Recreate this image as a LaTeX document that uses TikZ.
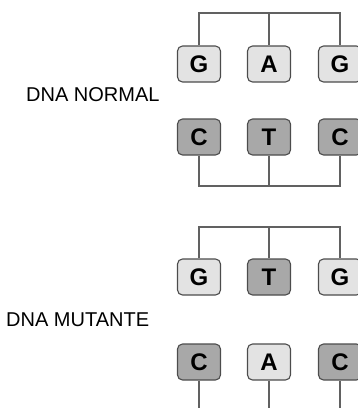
\documentclass[tikz,border=0pt]{standalone}
\usepackage{fontspec}
\setmainfont{Liberation Sans}
\begin{document}
\begin{tikzpicture}[x=1pt,y=-1pt,
  base/.style={draw=black!70, line width=1.1pt, rounded corners=5pt, minimum width=43pt, minimum height=36pt, inner sep=0pt, font=\fontsize{24}{24}\selectfont\bfseries},
  light/.style={base, fill=black!11},
  dark/.style={base, fill=black!34},
  link/.style={draw=black!62, line width=1.4pt},
  lbl/.style={font=\fontsize{20}{20}\selectfont, text=black, anchor=west, inner sep=0pt}]
\useasboundingbox (0,0) rectangle (357,408);
% group 1
\node[light] (g1a) at (199,64) {G};
\node[light] (g1b) at (269,64) {A};
\node[light] (g1c) at (340,64) {G};
\node[dark] (g1d) at (199,137) {C};
\node[dark] (g1e) at (269,137) {T};
\node[dark] (g1f) at (340,137) {C};
\coordinate (t1) at (269,13);
\coordinate (b1) at (269,186);
\draw[link] (g1a.north) |- (t1) -| (g1c.north);
\draw[link] (t1) -- (g1b.north);
\draw[link] (g1d.south) |- (b1) -| (g1f.south);
\draw[link] (b1) -- (g1e.south);
\node[lbl] (n1) at (26,95) {DNA NORMAL};
% group 2
\node[light] (g2a) at (199,277) {G};
\node[dark] (g2b) at (269,277) {T};
\node[light] (g2c) at (340,277) {G};
\node[dark] (g2d) at (199,362) {C};
\node[light] (g2e) at (269,362) {A};
\node[dark] (g2f) at (340,362) {C};
\coordinate (t2) at (269,227);
\coordinate (b2) at (269,420);
\draw[link] (g2a.north) |- (t2) -| (g2c.north);
\draw[link] (t2) -- (g2b.north);
\draw[link] (g2d.south) |- (b2) -| (g2f.south);
\draw[link] (b2) -- (g2e.south);
\node[lbl] (n2) at (6,319.5) {DNA MUTANTE};
\end{tikzpicture}
\end{document}
